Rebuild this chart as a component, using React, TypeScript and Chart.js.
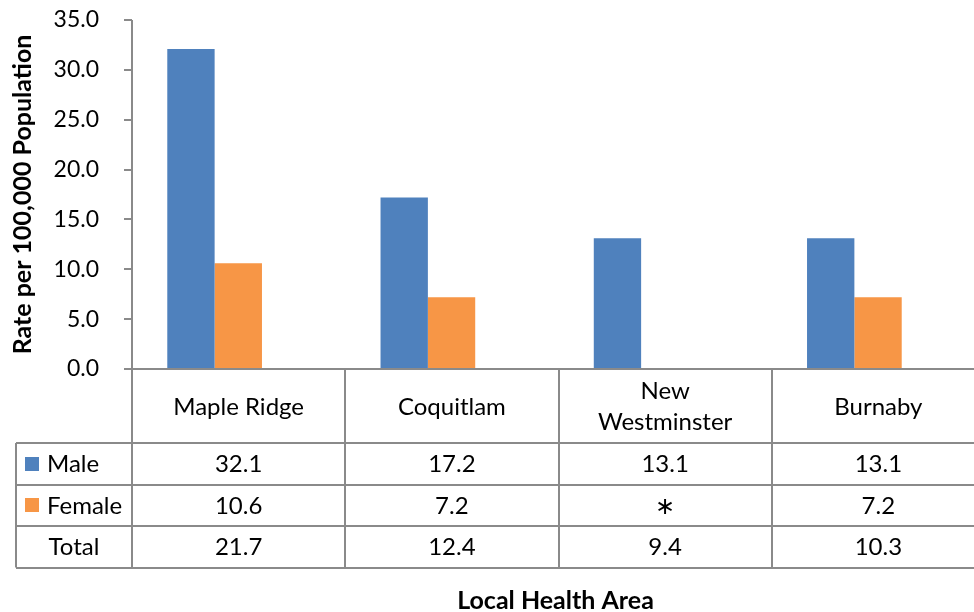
import React, { useEffect, useRef } from 'react';
import { Chart, registerables } from 'chart.js';

Chart.register(...registerables);

// ---- data ----
const categories = ['Maple Ridge', 'Coquitlam', 'New Westminster', 'Burnaby'];
const categoryLines = [['Maple Ridge'], ['Coquitlam'], ['New', 'Westminster'], ['Burnaby']];
const maleValues: (number | null)[] = [32.1, 17.2, 13.1, 13.1];
const femaleValues: (number | null)[] = [10.6, 7.2, null, 7.2];
const totalValues: (number | null)[] = [21.7, 12.4, 9.4, 10.3];
const seriesNames = ['Male', 'Female', 'Total'];
const suppressedMark = '\u2217';
const yTitle = 'Rate per 100,000 Population';
const xTitle = 'Local Health Area';
const yMin = 0;
const yMax = 35;
const yStep = 5;

// ---- style ----
const MALE_COLOR = '#4F81BD';
const FEMALE_COLOR = '#F79646';
const LINE_COLOR = '#8a8a8a';
const FONT = 'Lato, "Open Sans", sans-serif';
const TEXT_SIZE = 24;
const TICK_SIZE = 23;
const TITLE_SIZE = 25;
const AXIS_SHIFT = 24; // y-axis line sits right of the category start
const TICK_LEN = 8;
const HEADER_H = 74;
const ROW_H = 41.5;
const LEGEND_LEFT = 16;

function fmt(v: number | null) {
  return v === null ? suppressedMark : v.toFixed(1);
}

const tablePlugin = {
  id: 'dataTable',
  afterDraw(chart: any) {
    const { ctx, chartArea, scales } = chart;
    const yScale = scales.y;
    const n = categories.length;
    const colW = (chartArea.right - chartArea.left) / n;
    const axisX = Math.round(chartArea.left + AXIS_SHIFT);
    const baseY = Math.round(yScale.getPixelForValue(0));
    const W = chart.width;
    const rowTop = baseY + HEADER_H;
    const rowsData = [maleValues, femaleValues, totalValues];
    const tableBottom = rowTop + ROW_H * rowsData.length;

    ctx.save();
    ctx.strokeStyle = LINE_COLOR;
    ctx.lineWidth = 2;
    ctx.beginPath();
    // y axis
    ctx.moveTo(axisX, chartArea.top);
    ctx.lineTo(axisX, tableBottom);
    // tick marks
    for (let v = yMin; v <= yMax; v += yStep) {
      const py = Math.round(yScale.getPixelForValue(v));
      ctx.moveTo(axisX - TICK_LEN, py);
      ctx.lineTo(axisX, py);
    }
    // base line
    ctx.moveTo(axisX - TICK_LEN, baseY);
    ctx.lineTo(W, baseY);
    // column separators
    for (let i = 1; i <= n; i++) {
      const cx = Math.round(axisX + i * colW);
      ctx.moveTo(cx, baseY);
      ctx.lineTo(cx, tableBottom);
    }
    // row lines
    for (let k = 0; k <= rowsData.length; k++) {
      const ry = Math.round(rowTop + k * ROW_H);
      ctx.moveTo(LEGEND_LEFT, ry);
      ctx.lineTo(W, ry);
    }
    ctx.moveTo(LEGEND_LEFT, rowTop);
    ctx.lineTo(LEGEND_LEFT, tableBottom);
    ctx.stroke();

    ctx.fillStyle = '#000';
    ctx.font = `${TEXT_SIZE}px ${FONT}`;
    ctx.textAlign = 'center';
    ctx.textBaseline = 'middle';
    // header
    const headerMid = baseY + HEADER_H / 2;
    categoryLines.forEach((lines, i) => {
      const cx = axisX + (i + 0.5) * colW;
      const lh = 31;
      lines.forEach((t, j) => {
        ctx.fillText(t, cx, headerMid + (j - (lines.length - 1) / 2) * lh + 1);
      });
    });
    // rows
    const colors = [MALE_COLOR, FEMALE_COLOR, null];
    rowsData.forEach((vals, r) => {
      const my = rowTop + (r + 0.5) * ROW_H;
      vals.forEach((v, i) => {
        const cx = axisX + (i + 0.5) * colW;
        ctx.fillText(fmt(v), cx, my + 1);
      });
      const c = colors[r];
      if (c) {
        ctx.fillStyle = c;
        ctx.fillRect(LEGEND_LEFT + 9, Math.round(my - 7), 14, 14);
        ctx.fillStyle = '#000';
        ctx.textAlign = 'left';
        ctx.fillText(seriesNames[r], LEGEND_LEFT + 31, my + 1);
        ctx.textAlign = 'center';
      } else {
        ctx.fillText(seriesNames[r], (LEGEND_LEFT + axisX) / 2, my + 1);
      }
    });
    // x title
    ctx.font = `bold ${TITLE_SIZE}px ${FONT}`;
    ctx.fillText(xTitle, (axisX + axisX + n * colW) / 2 - 3, 601);
    ctx.restore();
  },
};

export default function App() {
  const ref = useRef<HTMLCanvasElement | null>(null);
  useEffect(() => {
    if (!ref.current) return;
    const chart = new Chart(ref.current, {
      type: 'bar',
      data: {
        labels: categories,
        datasets: [
          { label: seriesNames[0], data: maleValues, backgroundColor: MALE_COLOR, borderWidth: 0 },
          { label: seriesNames[1], data: femaleValues, backgroundColor: FEMALE_COLOR, borderWidth: 0 },
        ],
      },
      options: {
        animation: false,
        responsive: false,
        devicePixelRatio: 1,
        layout: { padding: { top: 20, right: 13, bottom: 243, left: 0 } },
        datasets: { bar: { categoryPercentage: 0.444, barPercentage: 1 } },
        plugins: { legend: { display: false }, tooltip: { enabled: false } },
        scales: {
          x: { display: false },
          y: {
            min: yMin,
            max: yMax,
            grid: { display: false },
            border: { display: false },
            afterFit: (s: any) => { s.width = 108; },
            ticks: {
              stepSize: yStep,
              padding: 1,
              color: '#000',
              font: { family: FONT, size: TICK_SIZE },
              callback: (v: any) => Number(v).toFixed(1),
            },
            title: {
              display: true,
              text: yTitle,
              color: '#000',
              font: { family: FONT, size: TITLE_SIZE, weight: 'bold' },
              padding: { top: 8, bottom: 0 },
            },
          },
        },
      },
      plugins: [tablePlugin],
    });
    return () => chart.destroy();
  }, []);
  return (
    <div style={{ position: 'absolute', left: 0, top: 0, width: 974, height: 612, background: '#fff' }}>
      <canvas ref={ref} width={974} height={612} />
    </div>
  );
}
